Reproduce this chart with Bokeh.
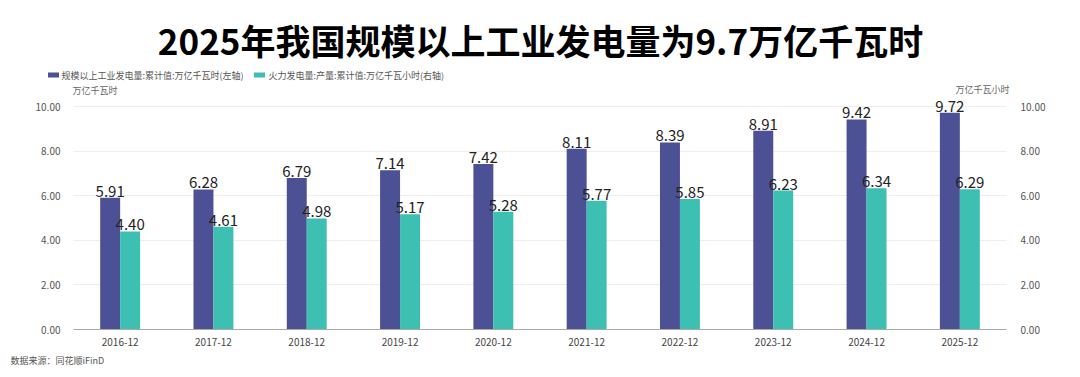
from bokeh.plotting import figure
from bokeh.models import (ColumnDataSource, FactorRange, Range1d, LinearAxis, NumeralTickFormatter,
                          FixedTicker)
from bokeh.layouts import column
from bokeh.embed import file_html
from bokeh.resources import INLINE
from bokeh.transform import dodge
from bokeh.core.properties import value

categories = ["2016-12", "2017-12", "2018-12", "2019-12", "2020-12",
              "2021-12", "2022-12", "2023-12", "2024-12", "2025-12"]
total_gen = [5.91, 6.28, 6.79, 7.14, 7.42, 8.11, 8.39, 8.91, 9.42, 9.72]
thermal_gen = [4.40, 4.61, 4.98, 5.17, 5.28, 5.77, 5.85, 6.23, 6.34, 6.29]
series_names = ["规模以上工业发电量:累计值:万亿千瓦时(左轴)", "火力发电量:产量:累计值:万亿千瓦小时(右轴)"]
title_text = "2025年我国规模以上工业发电量为9.7万亿千瓦时"
left_unit = "万亿千瓦时"
right_unit = "万亿千瓦小时"
source_text = "数据来源：同花顺iFinD"
y_ticks = [0, 2, 4, 6, 8, 10]

DARK = "#4b5194"
TEAL = "#3dbfb1"
FONT = "Noto Sans CJK SC"
W = 1072

def blank(h):
    f = figure(width=W, height=h, x_range=Range1d(0, W), y_range=Range1d(h, 0),
               output_backend="svg", toolbar_location=None,
               min_border=0, min_border_left=0, min_border_right=0,
               min_border_top=0, min_border_bottom=0)
    f.axis.visible = False
    f.grid.visible = False
    f.outline_line_color = None
    f.frame_align = False
    return f

# ---------- header ----------
TOP_H = 96
top = blank(TOP_H)
top.text(x=[540], y=[39], text=[title_text], text_align="center", text_baseline="middle",
         text_font=value(FONT), text_font_size="35px", text_font_style="bold", text_color="#000000")
top.rect(x=[53, 259], y=[74.5, 74.5], width=11, height=5, width_units="screen", height_units="screen",
         fill_color=[DARK, TEAL], line_color=None)
top.text(x=[61, 268], y=[75, 75], text=series_names, text_align="left", text_baseline="middle",
         text_font=value(FONT), text_font_size="9px", text_color="#555555")
top.text(x=[72], y=[90], text=[left_unit], text_align="left", text_baseline="middle",
         text_font=value(FONT), text_font_size="9px", text_color="#666666")
top.text(x=[1009], y=[89], text=[right_unit], text_align="right", text_baseline="middle",
         text_font=value(FONT), text_font_size="9px", text_color="#666666")

# ---------- main chart ----------
src = ColumnDataSource(dict(cat=categories, a=total_gen, b=thermal_gen,
                            la=[f"{v:.2f}" for v in total_gen],
                            lb=[f"{v:.2f}" for v in thermal_gen]))
YMAX = 10.45
p = figure(width=W, height=255, x_range=FactorRange(*categories), y_range=Range1d(0, YMAX),
           output_backend="svg", toolbar_location=None,
           min_border_left=73, min_border_right=W - 73 - 933, min_border_top=0, min_border_bottom=22)
p.extra_y_ranges = {"right": Range1d(0, YMAX)}
p.outline_line_color = None
p.frame_align = False

bw = 0.214
r1 = p.vbar(x=dodge("cat", -0.107, range=p.x_range), top="a", width=bw, source=src,
            fill_color=DARK, line_color=None)
r2 = p.vbar(x=dodge("cat", 0.107, range=p.x_range), top="b", width=bw, source=src,
            fill_color=TEAL, line_color=None, y_range_name="right")

p.text(x=dodge("cat", -0.107, range=p.x_range), y="a", text="la", source=src,
       text_align="center", text_baseline="bottom", y_offset=-1,
       text_font=value(FONT), text_font_size="15px", text_color="#222222")
p.text(x=dodge("cat", 0.107, range=p.x_range), y="b", text="lb", source=src,
       text_align="center", text_baseline="bottom", y_offset=-1,
       text_font=value(FONT), text_font_size="15px", text_color="#222222",
       y_range_name="right")

ticker = FixedTicker(ticks=y_ticks)
for ax in p.yaxis:
    ax.ticker = ticker
    ax.formatter = NumeralTickFormatter(format="0.00")
    ax.axis_line_color = None
    ax.major_tick_line_color = None
    ax.minor_tick_line_color = None
    ax.major_label_text_font = FONT
    ax.major_label_text_font_size = "10px"
    ax.major_label_text_color = "#555555"
    ax.major_label_standoff = 7

rax = LinearAxis(y_range_name="right", ticker=ticker, formatter=NumeralTickFormatter(format="0.00"),
                 axis_line_color=None, major_tick_line_color=None, minor_tick_line_color=None,
                 major_label_text_font=FONT, major_label_text_font_size="10px",
                 major_label_text_color="#555555", major_label_standoff=8)
p.add_layout(rax, "right")

p.xaxis.axis_line_color = "#aaaaaa"
p.xaxis.major_tick_line_color = None
p.xaxis.major_label_text_font = FONT
p.xaxis.major_label_text_font_size = "10px"
p.xaxis.major_label_text_color = "#444444"
p.xaxis.major_label_standoff = 2
p.xgrid.grid_line_color = None
p.ygrid.grid_line_color = "#eeeeee"
p.ygrid.ticker = ticker

# ---------- footer ----------
bot = blank(22)
bot.text(x=[10], y=[9], text=[source_text], text_align="left", text_baseline="middle",
         text_font=value(FONT), text_font_size="9px", text_color="#555555")

layout = column(top, p, bot, spacing=0)
open("out.html", "w").write(file_html(layout, INLINE))
